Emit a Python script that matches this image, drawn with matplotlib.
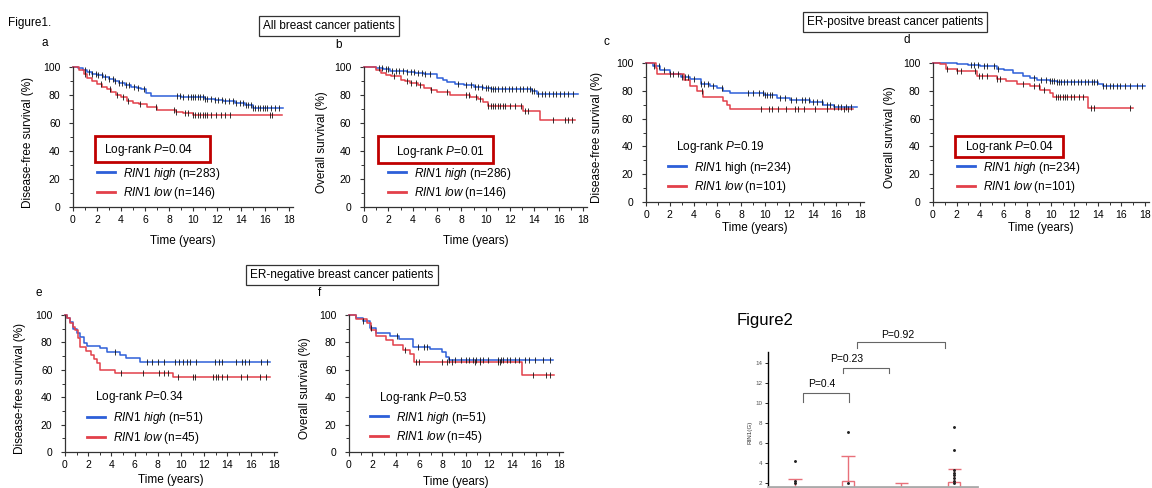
import matplotlib
matplotlib.use("Agg")
import matplotlib.pyplot as plt
from matplotlib.lines import Line2D
from matplotlib.patches import Rectangle
import numpy as np

plt.rcParams["font.family"] = ["Liberation Sans", "DejaVu Sans"]
plt.rcParams["mathtext.fontset"] = "custom"
plt.rcParams["mathtext.rm"] = "Liberation Sans"
plt.rcParams["mathtext.it"] = "Liberation Sans:italic"

W, H = 1152, 488
BLUE = "#2d5fd8"
RED = "#e2404a"
PINK = "#e8707a"

# ---------------- Figure 1 data (KM step curves, censor times) ----------------
# a: all patients, DFS
a_high_t = [0, 0.4, 0.8, 1.2, 1.6, 2.0, 2.5, 3.0, 3.4, 3.8, 4.3, 4.8, 5.3, 5.7, 6.1, 6.5, 9.0, 11.0, 11.8, 12.5, 13.5, 14.3, 15.0]
a_high_s = [100, 99, 98, 96.5, 95, 94, 93, 91.5, 90, 88.5, 87, 86, 85, 84, 81.5, 79, 78.5, 77.5, 76.5, 75.5, 74.5, 73, 71]
a_high_c = [1.0, 1.3, 1.6, 1.9, 2.1, 2.4, 2.7, 3.0, 3.3, 3.5, 3.8, 4.1, 4.4, 4.7, 5.1, 5.4, 5.9, 8.7, 8.9, 9.2, 9.6, 9.8,
            10.0, 10.2, 10.4, 10.6, 10.8, 11.0, 11.2, 11.5, 11.8, 12.1, 12.4, 12.7, 13.0, 13.3, 13.6, 13.9, 14.2,
            14.4, 14.6, 14.8, 15.0, 15.2, 15.4, 15.6, 15.8, 16.0, 16.2, 16.5, 16.8, 17.2]
a_low_t = [0, 0.5, 0.9, 1.2, 1.6, 2.0, 2.4, 2.8, 3.2, 3.6, 4.0, 4.5, 5.0, 5.5, 6.2, 7.0, 8.6, 9.2, 10.0]
a_low_s = [100, 98, 95, 92, 90, 88, 86, 84, 82, 80, 78.5, 76, 74, 73.5, 71.5, 69, 68, 67, 65.5]
a_low_c = [1.0, 2.3, 3.1, 3.7, 4.2, 4.6, 5.6, 6.9, 8.4, 8.6, 9.3, 9.6, 10.0, 10.2, 10.4, 10.6, 10.8, 11.0, 11.2,
           11.5, 11.9, 12.3, 12.7, 13.1, 16.4, 16.6]

# b: all patients, OS
b_high_t = [0, 1.0, 1.6, 2.1, 3.0, 3.5, 4.2, 4.9, 6.0, 6.5, 6.8, 7.5, 8.2, 9.0, 9.8, 10.4, 13.8, 14.2]
b_high_s = [100, 99, 98.5, 97.5, 97, 96.5, 95.5, 94.8, 92.5, 91, 89, 88, 87, 86, 85.3, 84.6, 83, 80.5]
b_high_c = [1.2, 1.5, 1.8, 2.0, 2.3, 2.6, 2.9, 3.2, 3.5, 3.9, 4.1, 4.4, 4.8, 5.0, 5.4, 7.7, 8.4, 8.8, 9.1, 9.4,
            9.7, 10.0, 10.2, 10.4, 10.6, 10.8, 11.0, 11.3, 11.6, 11.9, 12.2, 12.5, 12.8, 13.1, 13.4, 13.6, 13.8,
            14.0, 14.3, 14.6, 14.9, 15.2, 15.5, 15.8, 16.1, 16.4, 16.8, 17.2]
b_low_t = [0, 1.0, 1.4, 1.8, 2.2, 3.0, 3.4, 3.8, 4.4, 4.9, 5.5, 6.0, 7.1, 8.7, 9.4, 9.8, 10.2, 13.1, 14.5]
b_low_s = [100, 98, 96, 94.5, 93.4, 91, 90, 88.6, 87, 85.3, 83.5, 82, 80, 78.7, 77, 75, 72, 68.5, 62]
b_low_c = [2.5, 3.5, 3.9, 4.3, 4.6, 5.5, 6.8, 8.4, 8.6, 9.2, 9.5, 10.2, 10.4, 10.6, 10.8, 11.0, 11.2, 11.4,
           11.6, 12.0, 12.4, 12.9, 13.2, 13.5, 15.5, 16.5, 16.8, 17.1]

# c: ER-positive, DFS
c_high_t = [0, 0.6, 1.2, 2.0, 2.9, 3.7, 4.6, 5.4, 6.0, 6.5, 7.1, 9.9, 11.0, 12.1, 13.8, 14.9, 15.8]
c_high_s = [100, 98, 95, 92.3, 90, 88.5, 85, 83.7, 82, 80, 78.4, 77, 74.6, 73.4, 72, 69.8, 68]
c_high_c = [0.7, 1.1, 1.5, 2.0, 2.3, 2.7, 3.0, 3.3, 3.5, 4.0, 4.6, 4.9, 5.2, 5.6, 6.4, 8.6, 9.0, 9.5, 9.8,
            10.0, 10.2, 10.4, 10.6, 11.3, 11.7, 12.2, 12.6, 13.1, 13.4, 13.7, 14.0, 14.4, 14.8, 15.2, 15.5,
            15.8, 16.1, 16.4, 16.8, 17.2]
c_low_t = [0, 0.8, 0.9, 3.2, 3.7, 4.3, 4.8, 6.5, 6.8, 7.1]
c_low_s = [100, 96.4, 92.3, 88, 83.7, 79.6, 75.5, 72.4, 70, 67]
c_low_c = [4.7, 9.7, 10.3, 10.6, 11.1, 11.8, 12.5, 12.8, 13.3, 14.2, 15.2, 16.6, 17.0]

# d: ER-positive, OS
d_high_t = [0, 2.0, 3.0, 4.0, 5.4, 6.0, 6.8, 7.6, 8.2, 8.8, 9.9, 10.5, 14.0, 14.4]
d_high_s = [100, 99.5, 98.5, 98, 96, 95, 92.8, 91, 89.5, 88, 86.8, 86, 85, 83.2]
d_high_c = [3.2, 3.5, 3.8, 4.3, 4.6, 5.2, 5.5, 8.6, 9.2, 9.6, 9.9, 10.1, 10.3, 10.5, 10.7, 10.9, 11.1, 11.4,
            11.7, 12.0, 12.3, 12.6, 12.9, 13.2, 13.5, 13.7, 13.9, 14.4, 14.7, 15.0, 15.3, 15.6, 15.9, 16.3,
            16.7, 17.3, 17.7]
d_low_t = [0, 0.6, 1.1, 2.0, 3.7, 5.4, 6.2, 7.1, 8.2, 9.1, 9.9, 10.2, 13.2]
d_low_s = [100, 99, 96, 94, 91, 88.7, 87, 85, 83.2, 80.8, 78.4, 75.5, 67.6]
d_low_c = [1.2, 2.0, 2.4, 3.6, 3.9, 4.2, 4.6, 5.4, 5.7, 7.6, 8.6, 9.0, 9.4, 10.4, 10.6, 10.8, 11.0, 11.2,
           11.4, 11.7, 12.0, 12.4, 12.7, 13.4, 13.7, 16.7]

# e: ER-negative, DFS
e_high_t = [0, 0.15, 0.4, 0.7, 1.0, 1.3, 1.6, 1.9, 3.0, 3.6, 4.7, 5.3, 6.5]
e_high_s = [100, 98, 95, 90, 86.6, 83.7, 79.8, 77.6, 75.6, 73, 70.7, 68.3, 65.4]
e_high_c = [4.3, 7.1, 7.5, 8.0, 8.5, 9.5, 9.8, 10.2, 10.5, 10.8, 11.3, 12.9, 13.3, 13.5, 14.7, 15.3, 15.5,
            15.9, 16.9, 17.4]
e_low_t = [0, 0.15, 0.4, 0.7, 0.9, 1.1, 1.3, 1.8, 2.2, 2.5, 2.8, 3.0, 4.3, 9.3]
e_low_s = [100, 98, 94, 91, 89, 83, 76.8, 74, 71, 68, 65, 60, 57.8, 54.9]
e_low_c = [4.8, 6.7, 8.1, 8.5, 8.9, 9.7, 11.0, 11.2, 12.8, 13.0, 13.2, 13.5, 14.0, 15.2, 15.7, 16.8, 17.3]

# f: ER-negative, OS
f_high_t = [0, 0.6, 1.2, 1.8, 2.3, 3.5, 4.3, 5.5, 6.9, 8.0, 8.3, 8.6]
f_high_s = [100, 98, 95.9, 90.3, 87, 84.7, 82.3, 77, 75, 73.3, 69.7, 67.2]
f_high_c = [1.2, 1.9, 4.1, 5.9, 6.4, 6.7, 8.6, 9.1, 9.6, 10.0, 10.3, 10.6, 10.9, 11.2, 11.5, 11.9, 12.8, 13.0,
            13.2, 13.5, 13.8, 14.2, 14.6, 15.1, 15.4, 15.9, 16.6, 17.2]
f_low_t = [0, 0.6, 1.5, 1.9, 2.3, 3.2, 3.8, 4.6, 5.2, 5.6, 14.8]
f_low_s = [100, 97, 94, 89, 84.7, 81.8, 78.2, 74.5, 71.6, 65.5, 56.3]
f_low_c = [4.8, 5.7, 6.0, 8.0, 8.4, 8.8, 10.8, 11.2, 12.8, 12.9, 15.8, 16.9, 17.2]

# ---------------- Figure 2 data ----------------
groups = [1, 2, 3, 4]
box_low = [1.0, 1.0, 1.0, 1.0]
box_high = [1.5, 2.2, 1.4, 2.1]
whisker_top = [2.4, 4.7, 2.0, 3.4]
pts_x = [1, 1, 1, 2, 2, 4, 4, 4, 4, 4, 4, 4, 4]
pts_y = [4.2, 2.2, 2.0, 7.1, 2.0, 7.6, 5.3, 3.3, 3.0, 2.8, 2.5, 2.2, 2.0]
brk_left = [1.15, 1.91, 2.17]
brk_right = [2.02, 2.77, 3.83]
brk_top = [11.0, 13.5, 16.1]
brk_drop = [10.1, 13.0, 15.5]
brk_text_x = [1.51, 1.98, 2.93]
brk_text_y = [11.9, 14.4, 16.8]
brk_labels = ["P=0.4", "P=0.23", "P=0.92"]

fig = plt.figure(figsize=(W / 100, H / 100), dpi=100)


def fx(x):
    return x / W


def fy(y):
    return 1 - y / H


def km(ax, t, s, t_end, color):
    ax.step(list(t) + [t_end], list(s) + [s[-1]], where="post", color=color, lw=1.1, clip_on=False)


def cens(ax, t, s, c):
    idx = np.searchsorted(t, c, side="right") - 1
    ax.plot(c, np.asarray(s)[idx], ls="none", marker="|", ms=4, mew=0.6, color="#111111", clip_on=False)


hi_it = r"$\mathit{RIN1\ high}$"
hi_c = r"$\mathit{RIN1}$ high"
lo_it = r"$\mathit{RIN1\ low}$"

panels = [
    dict(L="a", x0=73, top=67, bot=207, ppy=12.0, hi=(a_high_t, a_high_s, 17.5, a_high_c), lo=(a_low_t, a_low_s, 17.4, a_low_c),
         yl="Disease-free survival (%)", ylx=28, xly=241, lxy=(42, 43), p="0.04", pxy=(104, 150), pbox=(95, 136, 210, 162),
         leg=(97, 172), n=(283, 146), hl=hi_it),
    dict(L="b", x0=364, top=67, bot=207, ppy=12.17, hi=(b_high_t, b_high_s, 17.6, b_high_c), lo=(b_low_t, b_low_s, 17.3, b_low_c),
         yl="Overall survival (%)", ylx=322, xly=241, lxy=(335, 45), p="0.01", pxy=(396, 152), pbox=(378, 136, 493, 163),
         leg=(388, 172), n=(286, 146), hl=hi_it),
    dict(L="c", x0=646, top=63, bot=202, ppy=11.9, hi=(c_high_t, c_high_s, 17.7, c_high_c), lo=(c_low_t, c_low_s, 17.4, c_low_c),
         yl="Disease-free survival (%)", ylx=597, xly=228, lxy=(603, 42), p="0.19", pxy=(676, 147), pbox=None,
         leg=(668, 166), n=(234, 101), hl=hi_c),
    dict(L="d", x0=933, top=63, bot=202, ppy=11.78, hi=(d_high_t, d_high_s, 18.0, d_high_c), lo=(d_low_t, d_low_s, 17.0, d_low_c),
         yl="Overall survival (%)", ylx=890, xly=228, lxy=(903, 40), p="0.04", pxy=(965, 147), pbox=(955, 136, 1063, 157),
         leg=(957, 166), n=(234, 101), hl=hi_it),
    dict(L="e", x0=65, top=315, bot=452, ppy=11.6, hi=(e_high_t, e_high_s, 17.7, e_high_c), lo=(e_low_t, e_low_s, 17.7, e_low_c),
         yl="Disease-free survival (%)", ylx=20, xly=480, lxy=(35, 293), p="0.34", pxy=(95, 397), pbox=None,
         leg=(87, 417), n=(51, 45), hl=hi_it),
    dict(L="f", x0=349, top=315, bot=452, ppy=11.67, hi=(f_high_t, f_high_s, 17.5, f_high_c), lo=(f_low_t, f_low_s, 17.6, f_low_c),
         yl="Overall survival (%)", ylx=305, xly=482, lxy=(318, 293), p="0.53", pxy=(379, 398), pbox=None,
         leg=(370, 416), n=(51, 45), hl=hi_it),
]

XMAX = 18.3
for P in panels:
    x1 = P["x0"] + XMAX * P["ppy"]
    ax = fig.add_axes([fx(P["x0"]), fy(P["bot"]), (x1 - P["x0"]) / W, (P["bot"] - P["top"]) / H])
    km(ax, *P["hi"][:3], BLUE)
    km(ax, *P["lo"][:3], RED)
    cens(ax, P["hi"][0], P["hi"][1], P["hi"][3])
    cens(ax, P["lo"][0], P["lo"][1], P["lo"][3])
    ax.set_xlim(0, XMAX)
    ax.set_ylim(0, 100)
    ax.set_xticks(range(0, 19, 2))
    ax.set_xticks(range(0, 19), minor=True)
    ax.set_yticks(range(0, 101, 20))
    ax.set_yticks(range(0, 101, 10), minor=True)
    for sp in ("top", "right"):
        ax.spines[sp].set_visible(False)
    for sp in ("left", "bottom"):
        ax.spines[sp].set_linewidth(0.9)
        ax.spines[sp].set_color("#333333")
    ax.tick_params(axis="both", which="major", labelsize=7.5, length=3, width=0.8, color="#333333")
    ax.tick_params(axis="both", which="minor", length=2, width=0.7, color="#333333")
    ax.tick_params(axis="y", pad=6)
    ax.tick_params(axis="x", pad=3)
    ax.patch.set_alpha(0)

    fig.text(fx(P["ylx"]), fy((P["top"] + P["bot"]) / 2 + 5), P["yl"], rotation=90, ha="center", va="center", fontsize=8.5)
    fig.text(fx((P["x0"] + x1) / 2), fy(P["xly"]), "Time (years)", ha="center", va="center", fontsize=8.5)
    fig.text(fx(P["lxy"][0]), fy(P["lxy"][1]), P["L"], ha="left", va="center", fontsize=8.5)
    fig.text(fx(P["pxy"][0]), fy(P["pxy"][1]), r"Log-rank $\mathit{P}$=" + P["p"], ha="left", va="center", fontsize=8.5)
    if P["pbox"]:
        bx0, by0, bx1, by1 = P["pbox"]
        fig.add_artist(Rectangle((fx(bx0), fy(by1)), (bx1 - bx0) / W, (by1 - by0) / H, transform=fig.transFigure,
                                 fill=False, ec="#c00000", lw=2))
    handles = [Line2D([], [], color=BLUE, lw=2), Line2D([], [], color=RED, lw=2)]
    labels = [P["hl"] + " (n=%d)" % P["n"][0], lo_it + " (n=%d)" % P["n"][1]]
    ax.legend(handles, labels, loc="upper left", bbox_to_anchor=(fx(P["leg"][0]), fy(P["leg"][1] - 6.5)),
              bbox_transform=fig.transFigure, frameon=False, fontsize=8.5, handlelength=1.5, handletextpad=0.7,
              labelspacing=0.28, borderpad=0, borderaxespad=0)

fig.text(fx(8), fy(23), "Figure1.", ha="left", va="center", fontsize=8.5)
box_style = dict(boxstyle="square,pad=0.35", fc="white", ec="#333333", lw=0.9)
fig.text(fx(329), fy(26), "All breast cancer patients", ha="center", va="center", fontsize=8.5, bbox=box_style)
fig.text(fx(895), fy(22), "ER-positve breast cancer patients", ha="center", va="center", fontsize=8.5,
         bbox=dict(box_style, boxstyle="square,pad=0.3"))
fig.text(fx(342), fy(275), "ER-negative breast cancer patients", ha="center", va="center", fontsize=8.5, bbox=box_style)

# ---------------- Figure 2 ----------------
fig.text(fx(793), fy(321), "Figure2", ha="right", va="center", fontsize=12)
ax2 = fig.add_axes([fx(768), fy(487), (977 - 768) / W, (487 - 352) / H])
ax2.set_xlim(0.49, 4.43)
ax2.set_ylim(1.6, 15.1)
ax2.bar(groups, np.subtract(box_high, box_low), bottom=box_low, width=0.23, fill=False, edgecolor=PINK, lw=1)
ax2.vlines(groups, box_high, whisker_top, color=PINK, lw=1)
ax2.hlines(whisker_top, np.subtract(groups, 0.125), np.add(groups, 0.125), color=PINK, lw=1)
ax2.scatter(pts_x, pts_y, s=1.2, color="#222222", zorder=3)
for l, r, t, d, tx, ty, lab in zip(brk_left, brk_right, brk_top, brk_drop, brk_text_x, brk_text_y, brk_labels):
    ax2.plot([l, l, r, r], [d, t, t, d], color="#666666", lw=0.8, clip_on=False)
    ax2.text(tx, ty, lab, ha="center", va="center", fontsize=7.5, clip_on=False)
ax2.set_xticks([])
ax2.set_yticks(range(2, 15, 2))
ax2.tick_params(axis="y", labelsize=4.5, labelcolor="#555555", length=2, width=0.6, pad=2)
for sp in ("top", "right"):
    ax2.spines[sp].set_visible(False)
ax2.spines["left"].set_linewidth(1)
ax2.spines["bottom"].set_color("#aaaaaa")
ax2.spines["bottom"].set_linewidth(2)
ax2.patch.set_alpha(0)
fig.text(fx(750), fy(432), "RIN1(G)", rotation=90, ha="center", va="center", fontsize=4.5, color="#333333")

fig.savefig("out.png", dpi=100)
